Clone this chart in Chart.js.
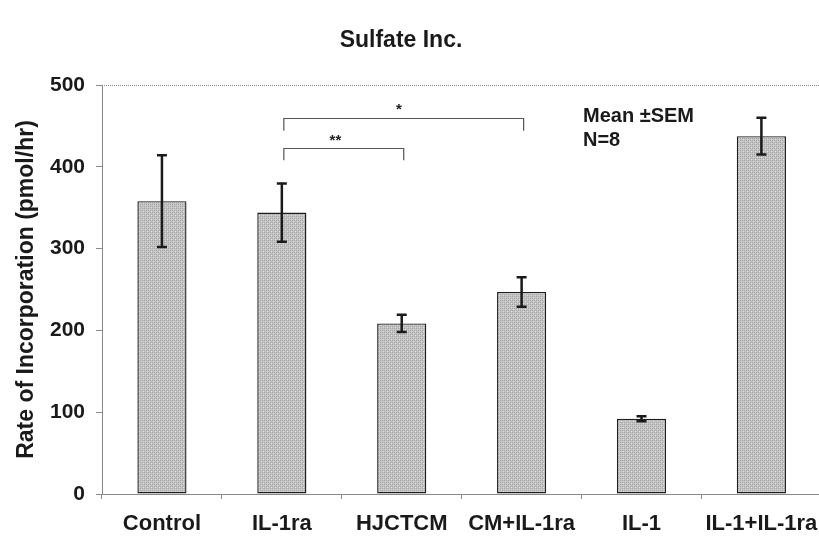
<!DOCTYPE html>
<html>
<head>
<meta charset="utf-8">
<script src="https://cdn.jsdelivr.net/npm/chart.js@4.4.1/dist/chart.umd.min.js"></script>
<style>
  html, body { margin: 0; padding: 0; background: #fff; overflow: hidden; }
  #wrap { width: 830px; height: 539px; }
</style>
</head>
<body>
<div id="wrap"><canvas id="c" width="830" height="539"></canvas></div>
<script>
// Sulfate incorporation by treatment group (mean ± SEM, N=8)
const categories = ['Control', 'IL-1ra', 'HJCTCM', 'CM+IL-1ra', 'IL-1', 'IL-1+IL-1ra'];
const meanRate = [358, 344, 208.5, 247, 92, 437.5];
const semRate = [56, 35.5, 10.5, 18, 3, 22.5];
const yTicks = [0, 100, 200, 300, 400, 500];

// Significance brackets: from/to category index, bar height, leg end, label
const bracketFrom = [1, 1];
const bracketTo = [3, 2];
const bracketTop = [460, 423];
const bracketLeg = [444, 408];
const bracketLabel = ['*', '**'];

const FONT = 'Arial, "Liberation Sans", Helvetica, sans-serif';

// stippled grey fill for the bars
function stipple() {
  const p = document.createElement('canvas');
  p.width = 4; p.height = 4;
  const g = p.getContext('2d');
  g.fillStyle = '#c4c4c4';
  g.fillRect(0, 0, 4, 4);
  g.fillStyle = '#a6a6a6';
  g.fillRect(0, 0, 1, 1); g.fillRect(2, 2, 1, 1);
  g.fillRect(2, 0, 1, 1); g.fillRect(0, 2, 1, 1);
  g.fillStyle = '#d8d8d8';
  g.fillRect(1, 1, 1, 1); g.fillRect(3, 3, 1, 1);
  return g.createPattern(p, 'repeat');
}
const ctx0 = document.getElementById('c').getContext('2d');

const decorations = {
  id: 'decorations',
  afterDatasetsDraw(chart) {
    const { ctx, chartArea, scales } = chart;
    const x = scales.x, y = scales.y;
    ctx.save();

    // dotted top frame line
    ctx.strokeStyle = '#8a8a8a';
    ctx.lineWidth = 1;
    ctx.setLineDash([1, 1]);
    ctx.beginPath();
    ctx.moveTo(chartArea.left, chartArea.top + 0.5);
    ctx.lineTo(chartArea.right, chartArea.top + 0.5);
    ctx.stroke();
    ctx.setLineDash([]);

    // error bars
    ctx.strokeStyle = '#1a1a1a';
    ctx.lineWidth = 2.5;
    meanRate.forEach((m, i) => {
      const cx = x.getPixelForValue(i);
      const yt = y.getPixelForValue(m + semRate[i]);
      const yb = y.getPixelForValue(m - semRate[i]);
      ctx.beginPath();
      ctx.moveTo(cx, yt); ctx.lineTo(cx, yb);
      ctx.moveTo(cx - 5, yt); ctx.lineTo(cx + 5, yt);
      ctx.moveTo(cx - 5, yb); ctx.lineTo(cx + 5, yb);
      ctx.stroke();
    });

    // significance brackets
    ctx.strokeStyle = '#555';
    ctx.lineWidth = 1.2;
    ctx.fillStyle = '#222';
    ctx.font = 'bold 15px ' + FONT;
    ctx.textAlign = 'center';
    ctx.textBaseline = 'middle';
    bracketFrom.forEach((f, k) => {
      const x1 = x.getPixelForValue(f) + 2;
      const x2 = x.getPixelForValue(bracketTo[k]) + 2;
      const yt = Math.round(y.getPixelForValue(bracketTop[k])) + 0.5;
      const yl = y.getPixelForValue(bracketLeg[k]);
      ctx.beginPath();
      ctx.moveTo(x1, yl); ctx.lineTo(x1, yt); ctx.lineTo(x2, yt); ctx.lineTo(x2, yl);
      ctx.stroke();
      const lx = k === 0 ? x1 + (x2 - x1) * 0.48 : x1 + (x2 - x1) * 0.43;
      ctx.fillText(bracketLabel[k], lx, yt + (k === 0 ? -9 : -8));
    });

    // legend note
    ctx.fillStyle = '#1a1a1a';
    ctx.font = 'bold 20px ' + FONT;
    ctx.textAlign = 'left';
    ctx.textBaseline = 'middle';
    ctx.fillText('Mean \u00B1SEM', 583, 116);
    ctx.fillText('N=8', 583, 140);

    // chart title
    ctx.font = 'bold 23px ' + FONT;
    ctx.textAlign = 'center';
    ctx.fillText('Sulfate Inc.', 401, 41);
    ctx.restore();
  }
};

new Chart(ctx0, {
  type: 'bar',
  data: {
    labels: categories,
    datasets: [{
      data: meanRate,
      backgroundColor: stipple(),
      borderColor: '#1e1e1e',
      borderWidth: 1.4,
      borderSkipped: false,
      barPercentage: 0.41,
      categoryPercentage: 1.0
    }]
  },
  options: {
    responsive: false,
    animation: false,
    events: [],
    layout: { padding: { top: 85, right: 8, left: 0, bottom: 0 } },
    plugins: { legend: { display: false }, title: { display: false }, tooltip: { enabled: false } },
    scales: {
      x: {
        grid: { display: true, drawOnChartArea: false, drawTicks: true, tickLength: 5, color: '#8a8a8a', offset: true },
        border: { display: true, color: '#8a8a8a', dash: [1, 1] },
        ticks: { color: '#1a1a1a', font: { family: FONT, size: 22, weight: 'bold' }, padding: 12, maxRotation: 0, autoSkip: false },
        afterFit(s) { s.height = 45; }
      },
      y: {
        min: 0, max: 500,
        afterBuildTicks(s) { s.ticks = yTicks.map(v => ({ value: v })); },
        grid: { display: true, drawOnChartArea: false, drawTicks: true, tickLength: 6, color: '#8a8a8a' },
        border: { display: true, color: '#8a8a8a', dash: [1, 1] },
        ticks: { color: '#1a1a1a', font: { family: FONT, size: 21, weight: 'bold' }, padding: 11 },
        title: { display: true, text: 'Rate of Incorporation (pmol/hr)', color: '#1a1a1a', font: { family: FONT, size: 23, weight: 'bold' }, padding: { top: 13, bottom: 0 } },
        afterFit(s) { s.width = 102; }
      }
    }
  },
  plugins: [decorations]
});
</script>
</body>
</html>
